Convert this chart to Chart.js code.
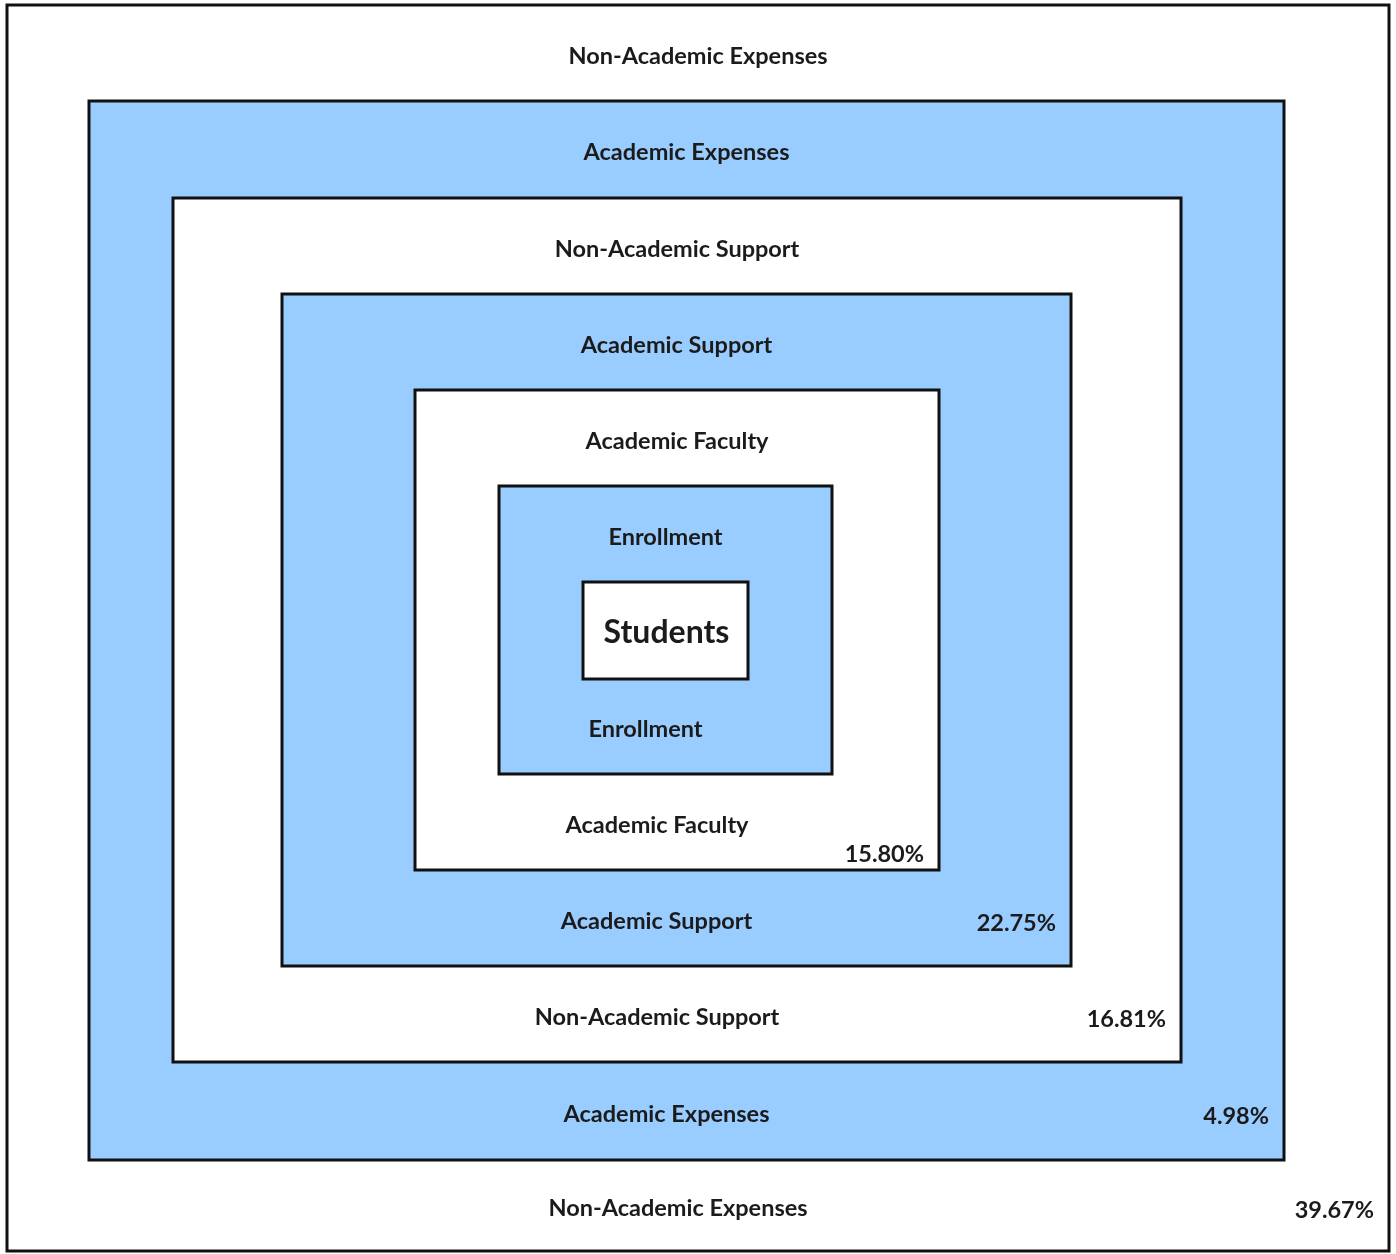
<!DOCTYPE html>
<html>
<head>
<meta charset="utf-8">
<script src="https://cdn.jsdelivr.net/npm/chart.js@4.4.1/dist/chart.umd.min.js"></script>
<style>
  html, body { margin: 0; padding: 0; background: #fff; }
  #wrap { width: 1396px; height: 1254px; }
</style>
</head>
<body>
<div id="wrap"><canvas id="nest-chart" width="1396" height="1254"></canvas></div>
<script>
// layers from outermost to innermost
const layers = ['Non-Academic Expenses', 'Academic Expenses', 'Non-Academic Support',
  'Academic Support', 'Academic Faculty', 'Enrollment', 'Students'];
const shares = ['39.67%', '4.98%', '16.81%', '22.75%', '15.80%', '', ''];
// box extents, in the diagram's own units
const boxLeft = [7, 89, 173, 282, 415, 499, 583];
const boxRight = [1389, 1284, 1181, 1071, 939, 832, 748];
const boxTop = [5, 101, 198, 294, 390, 486, 582];
const boxBottom = [1251, 1160, 1062, 966, 870, 774, 679];

const BLUE = '#99ccff';
const INK = '#1b1b1b';

const nestedBoxes = {
  id: 'nestedBoxes',
  beforeDatasetsDraw(chart) {
    const ctx = chart.ctx;
    const xs = chart.scales.x;
    const ys = chart.scales.y;
    const last = layers.length - 1;

    ctx.save();
    layers.forEach((name, i) => {
      const l = xs.getPixelForValue(boxLeft[i]);
      const r = xs.getPixelForValue(boxRight[i]);
      const t = ys.getPixelForValue(boxTop[i]);
      const b = ys.getPixelForValue(boxBottom[i]);
      ctx.fillStyle = (i % 2 === 1) ? BLUE : '#ffffff';
      ctx.fillRect(l, t, r - l, b - t);
      ctx.lineWidth = 3;
      ctx.strokeStyle = '#111';
      ctx.strokeRect(l, t, r - l, b - t);
    });

    ctx.fillStyle = INK;
    ctx.textBaseline = 'middle';
    layers.forEach((name, i) => {
      const l = xs.getPixelForValue(boxLeft[i]);
      const r = xs.getPixelForValue(boxRight[i]);
      const t = ys.getPixelForValue(boxTop[i]);
      const b = ys.getPixelForValue(boxBottom[i]);
      const cx = (l + r) / 2;

      if (i === last) {
        ctx.font = 'bold 32px Lato';
        ctx.textAlign = 'center';
        ctx.fillText(name, cx + 1, (t + b) / 2 + 2);
        return;
      }
      const innerT = ys.getPixelForValue(boxTop[i + 1]);
      const innerB = ys.getPixelForValue(boxBottom[i + 1]);

      ctx.font = 'bold 23.5px Lato';
      ctx.textAlign = 'center';
      ctx.fillText(name, cx, (t + innerT) / 2 + 3);
      ctx.fillText(name, cx - 20, (innerB + b) / 2 + 3);

      if (shares[i]) {
        ctx.textAlign = 'right';
        const py = (i === 4) ? b - 16 : (innerB + b) / 2 + 5;
        ctx.fillText(shares[i], r - 15, py);
      }
    });
    ctx.restore();
  }
};

new Chart(document.getElementById('nest-chart'), {
  type: 'scatter',
  data: { datasets: [{ data: [], showLine: false }] },
  options: {
    responsive: false,
    devicePixelRatio: 1,
    animation: false,
    layout: { padding: 0 },
    plugins: { legend: { display: false }, tooltip: { enabled: false } },
    scales: {
      x: { type: 'linear', min: 0, max: 1396, display: false },
      y: { type: 'linear', min: 0, max: 1254, reverse: true, display: false }
    }
  },
  plugins: [nestedBoxes]
});
</script>
</body>
</html>
